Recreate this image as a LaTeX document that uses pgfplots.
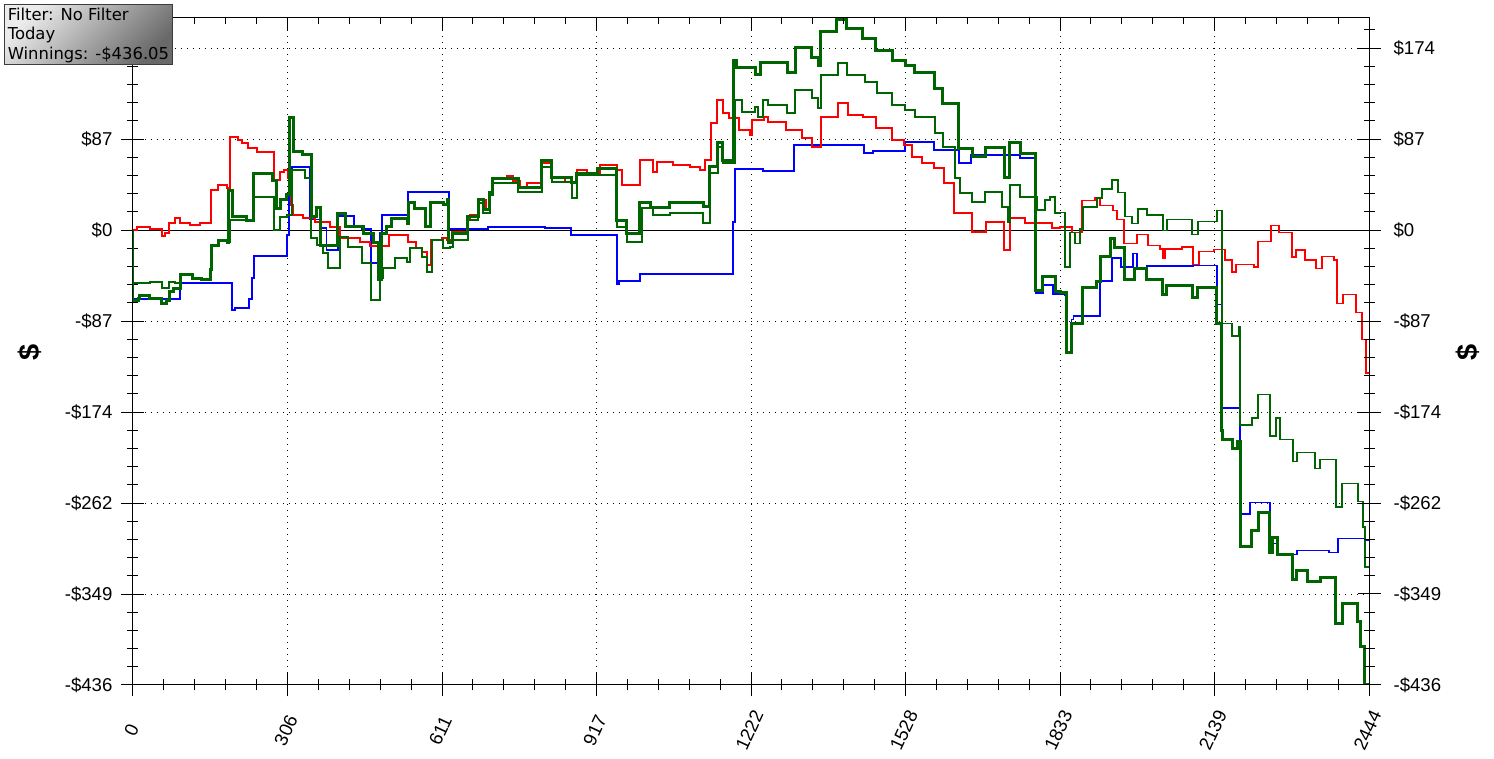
\documentclass[border=0pt]{standalone}
\usepackage{fontspec}
\setmainfont{Liberation Sans}
\newfontfamily\boxfont{DejaVu Sans}
\usepackage{pgfplots}
\pgfplotsset{compat=1.18}

\definecolor{dkgreen}{RGB}{0,100,0}
\definecolor{boxlight}{RGB}{236,236,236}
\definecolor{boxdark}{RGB}{105,105,105}
\definecolor{boxedge}{RGB}{60,60,60}

\pgfplotsset{
  common/.style={
    width=618pt, height=333.5pt, scale only axis,
    xmin=0, xmax=2444, ymin=-436.05, ymax=203.2,
    xtick={0,305.5,611,916.5,1222,1527.5,1833,2138.5,2444},
    ytick={-436.05,-348.84,-261.63,-174.42,-87.21,0,87.21,174.42},
    minor ytick={-418.61,-401.17,-383.72,-366.28,-331.40,-313.95,-296.51,-279.07,-244.19,-226.75,-209.30,-191.86,-156.98,-139.54,-122.09,-104.65,-69.77,-52.33,-34.88,-17.44,17.44,34.88,52.33,69.77,104.65,122.09,139.54,156.98,191.86},
    minor x tick num=4,
    axis line style={black, line width=0.5pt},
    tick style={black, line width=0.5pt},
    every tick label/.append style={font=\fontsize{9.3}{11}\selectfont},
  },
}

\begin{document}
\begin{tikzpicture}

% main axis: box, grid, data, bottom and left ticks
\begin{axis}[common,
  xtick pos=left, ytick pos=left,
  tick align=center,
  major tick length=11.5pt, minor tick length=5.5pt,
  xticklabels={0,306,611,917,1222,1528,1833,2139,2444},
  % the top label on the left sits under the info box
  yticklabels={-\$436,-\$349,-\$262,-\$174,-\$87,\$0,\$87,{}},
  xticklabel style={yshift=-17pt, xshift=-0.8pt, rotate=65, anchor=center},
  yticklabel style={xshift=-1pt},
  grid=major,
  major grid style={black, line width=0.5pt, dash pattern=on 0.5pt off 2.5pt},
]
\addplot[black, line width=0.5pt] coordinates {(0,0) (2444,0)};

% blue
\addplot[const plot, blue, line width=0.7pt] coordinates {
(0,0) (0,-66.1) (92.9,-50.8) (195.8,-76.7) (201.7,-74.8) (229.4,-66.1) (235.3,-46.0)
(239.3,-24.9) (304.5,-4.8) (308.5,45.0) (314.4,60.4) (350.0,10.0) (370.0,2.0)
(383.0,-19.2) (405.3,13.4) (437.0,3.8) (452.8,1.0) (470.6,-31.6) (488.4,-2.9)
(492.3,14.4) (543.8,36.4) (624.8,1.0) (702.0,2.9) (814.6,1.9) (866.1,-4.8)
(957.0,-51.8) (961.0,-48.9) (1002.5,-42.2) (1186.4,7.7) (1190.3,58.5) (1245.7,56.5)
(1307.0,81.5) (1445.4,73.8) (1463.2,75.7) (1526.5,84.3) (1583.8,76.7) (1633.3,64.2)
(1657.0,71.9) (1753.9,69.0) (1785.5,-60.4) (1799.3,-52.7) (1819.1,-61.3) (1842.8,-63.0)
(1848.0,-117.4) (1856.0,-86.0) (1860.0,-82.5) (1912.0,-48.8) (1935.8,-26.8) (1953.6,-35.5)
(1977.3,-22.6) (1985.2,-36.6) (2005.0,-34.5) (2096.0,-33.8) (2143.4,-71.1) (2153.3,-170.7)
(2188.9,-272.3) (2208.7,-260.9) (2248.2,-300.2) (2264.0,-310.7) (2301.6,-307.2)
(2364.9,-308.9) (2382.6,-295.7) (2436.0,-297.8) (2444,-297.8)
};

% red
\addplot[const plot, red, line width=0.7pt] coordinates {
(0,0) (7.9,2.9) (33.6,1.0) (57.3,-5.8) (63.3,-2.9) (71.2,6.7) (83.0,11.5) (92.9,6.7)
(112.7,4.8) (132.5,6.7) (154.2,38.3) (168.1,43.1) (185.9,40.3) (191.8,89.1) (207.6,86.3)
(215.5,83.4) (227.4,78.6) (245.2,74.8) (278.8,47.9) (290.7,55.6) (298.6,57.5) (306.5,49.8)
(312.4,24.0) (316.4,14.4) (336.1,11.5) (359.9,7.7) (389.5,2.9) (409.3,-7.7) (448.8,-11.5)
(468.6,-15.3) (506.2,-4.8) (543.8,-11.5) (559.6,-17.3) (571.4,-21.1) (581.3,-33.5)
(589.2,-9.6) (611.0,-7.7) (620.9,-9.6) (630.8,-1.9) (660.4,11.5) (666.4,14.4) (682.2,28.8)
(698.0,19.2) (705.9,36.4) (711.8,49.8) (739.5,51.8) (751.4,47.0) (765.2,41.2) (779.1,45.0)
(806.7,64.2) (828.5,49.8) (854.2,46.0) (877.9,57.5) (897.7,52.7) (923.4,62.3) (957.0,57.5)
(966.9,43.1) (1002.5,67.1) (1028.2,55.6) (1036.1,65.2) (1067.7,62.3) (1101.4,60.4)
(1121.1,57.5) (1131.0,67.1) (1142.9,102.5) (1154.7,124.6) (1166.6,112.1) (1178.5,107.3)
(1198.2,95.8) (1220.0,91.0) (1223.9,105.4) (1247.7,108.3) (1255.6,103.5) (1291.2,95.8)
(1322.8,88.2) (1342.6,79.5) (1360.4,108.3) (1394.0,121.7) (1413.8,110.2) (1443.4,108.3)
(1469.1,97.8) (1500.8,86.3) (1524.5,81.5) (1540.3,70.0) (1560.1,64.2) (1583.8,59.4)
(1603.6,45.0) (1623.4,16.3) (1659.0,-1.9) (1686.6,7.7) (1722.2,-19.2) (1734.1,11.5)
(1763.8,6.7) (1817.1,1.9) (1833.0,2.8) (1856.6,-2.4) (1876.5,28.2) (1902.2,30.7)
(1912.0,23.7) (1937.7,18.5) (1945.6,9.8) (1959.5,-12.9) (1985.2,-4.2) (2007.0,-14.6)
(2030.7,-18.1) (2036.6,-26.8) (2040.6,-18.1) (2074.2,-16.4) (2096.0,-33.1) (2107.9,-20.5)
(2137.5,-18.8) (2159.3,-28.6) (2173.1,-40.1) (2181.0,-33.1) (2216.6,-35.5) (2224.5,-11.1)
(2250.2,4.5) (2266.1,-2.4) (2291.8,-25.8) (2299.7,-19.2) (2317.5,-28.6) (2339.2,-36.6)
(2351.1,-25.1) (2374.8,-28.6) (2380.7,-70.4) (2392.6,-61.6) (2418.3,-79.1) (2430.1,-105.2)
(2438.0,-137.2) (2444,-137.2)
};

% thin green
\addplot[const plot, dkgreen, line width=0.7pt] coordinates {
(0,0) (0,-50.8) (33.6,-49.8) (57.3,-55.6) (71.2,-49.8) (83.0,-50.8) (94.9,-43.1)
(116.7,-46.0) (136.4,-47.9) (154.2,-38.3) (156.2,-14.4) (168.1,-9.6) (185.9,-11.5)
(191.8,9.6) (237.3,31.6) (278.8,0) (290.7,12.5) (304.5,14.4) (314.4,57.5) (340.1,49.8)
(352.0,-7.7) (363.8,-14.4) (375.7,-22.0) (385.6,-36.4) (409.3,-6.7) (425.1,-16.3)
(452.8,-31.6) (470.6,-67.1) (488.4,-46.0) (494.3,-36.4) (518.1,-26.8) (541.8,-30.7)
(547.7,-17.3) (571.4,-25.9) (581.3,-40.3) (591.2,-9.6) (613.0,-17.3) (626.8,-16.3)
(632.7,-9.6) (662.4,9.6) (682.2,25.9) (692.1,16.3) (705.9,33.5) (711.8,45.0) (761.3,36.4)
(808.7,60.4) (828.5,46.0) (868.0,30.7) (877.9,52.7) (957.0,2.9) (976.8,-11.5)
(1006.4,21.1) (1028.2,14.4) (1061.8,16.3) (1127.1,6.7) (1140.9,54.6) (1156.7,79.5)
(1166.6,64.2) (1190.3,124.6) (1204.2,113.1) (1229.9,117.9) (1235.8,108.3) (1245.7,124.6)
(1255.6,119.8) (1293.2,112.1) (1309.0,134.2) (1342.6,126.5) (1354.5,116.9) (1360.4,148.6)
(1394.0,160.1) (1411.8,148.6) (1447.4,141.8) (1471.1,131.3) (1500.8,119.8) (1526.5,115.0)
(1546.2,108.3) (1585.8,93.0) (1601.6,79.5) (1625.3,49.8) (1635.2,35.5) (1659.0,26.8)
(1684.7,36.4) (1718.3,22.0) (1730.1,7.7) (1734.1,43.1) (1753.9,31.6) (1787.5,19.2)
(1803.3,28.8) (1813.2,31.6) (1823.1,16.3) (1833.0,16.7) (1842.8,-35.5) (1852.7,-2.4)
(1862.6,-12.9) (1872.5,1.0) (1878.4,21.9) (1906.1,30.7) (1916.0,39.4) (1935.8,48.1)
(1947.6,35.9) (1961.5,13.2) (1975.3,6.3) (1987.2,20.2) (2005.0,14.3) (2036.6,-0.7)
(2044.5,9.8) (2094.0,-4.2) (2105.8,8.0) (2143.4,18.5) (2153.3,-89.5) (2173.1,-101.7)
(2186.9,-93.0) (2188.9,-187.0) (2212.6,-180.1) (2224.5,-157.4) (2248.2,-197.5)
(2260.1,-180.1) (2268.0,-201.0) (2293.7,-221.9) (2301.6,-213.2) (2337.2,-228.8)
(2347.1,-220.1) (2378.7,-265.4) (2390.6,-242.8) (2422.2,-260.2) (2432.1,-284.6)
(2436.0,-322.9) (2444,-322.9)
};

% thick green
\addplot[const plot, dkgreen, line width=1.5pt] coordinates {
(0,0) (0,-68.0) (9.9,-65.2) (13.8,-62.3) (33.6,-65.2) (57.3,-70.0) (65.3,-67.1)
(71.2,-59.4) (79.1,-55.6) (94.9,-43.1) (116.7,-46.0) (136.4,-47.9) (154.2,-38.3)
(156.2,-14.4) (168.1,-9.6) (185.9,-11.5) (189.8,38.3) (195.8,12.5) (225.4,9.6)
(237.3,54.6) (276.8,47.9) (282.8,21.1) (290.7,28.8) (304.5,34.5) (310.4,108.3)
(316.4,74.8) (336.1,71.9) (352.0,13.4) (363.8,22.0) (369.8,-14.4) (405.3,16.3)
(419.2,2.9) (454.8,-2.9) (474.6,-11.5) (486.4,-47.9) (492.3,-2.9) (502.2,2.9)
(512.1,11.5) (541.8,6.7) (543.8,25.9) (557.6,21.1) (577.4,2.9) (589.2,26.8) (613.0,24.0)
(620.9,28.8) (624.8,-11.5) (632.7,-2.9) (662.4,12.5) (682.2,28.8) (692.1,19.2)
(705.9,36.4) (711.8,49.8) (761.3,41.2) (808.7,67.1) (828.5,50.8) (868.0,46.0)
(877.9,54.6) (919.4,59.4) (957.0,9.6) (976.8,-2.9) (1002.5,25.9) (1022.3,22.0)
(1061.8,25.9) (1127.1,23.0) (1140.9,60.4) (1156.7,83.4) (1166.6,67.1) (1186.4,162.9)
(1194.3,155.3) (1229.9,148.6) (1239.8,160.1) (1293.2,151.4) (1309.0,175.4)
(1342.6,165.8) (1354.5,158.1) (1360.4,189.8) (1392.0,201.3) (1411.8,193.6)
(1443.4,184.0) (1467.2,172.5) (1500.8,162.9) (1526.5,158.1) (1546.2,151.4)
(1585.8,136.1) (1601.6,121.7) (1631.3,78.6) (1659.0,70.0) (1684.7,79.5) (1724.2,50.8)
(1734.1,84.3) (1753.9,73.8) (1785.5,-57.5) (1799.3,-45.0) (1823.1,-59.4) (1833.0,-59.9)
(1846.8,-117.4) (1856.6,-89.5) (1876.5,-54.7) (1906.1,-49.5) (1914.0,-25.1)
(1933.8,-7.7) (1941.7,-16.4) (1961.5,-47.7) (1981.2,-37.3) (2005.0,-47.7) (2036.6,-61.6)
(2044.5,-52.9) (2094.0,-65.1) (2105.8,-54.7) (2143.4,-89.5) (2153.3,-192.3)
(2155.0,-201.0) (2175.0,-209.7) (2184.9,-202.7) (2188.9,-303.7) (2212.6,-288.0)
(2224.5,-270.6) (2248.2,-309.0) (2254.1,-295.0) (2264.0,-310.7) (2291.8,-335.1)
(2301.6,-326.4) (2323.3,-336.8) (2347.1,-333.3) (2378.7,-376.9) (2390.6,-357.7)
(2422.2,-375.1) (2428.1,-399.5) (2436.0,-436.05) (2444,-436.05)
};
\end{axis}

% top ticks, pointing inwards
\begin{axis}[common,
  axis x line*=top, axis y line=none,
  xticklabels={}, tick align=inside,
  major tick length=6pt, minor tick length=3pt,
]
\end{axis}

% right ticks and labels
\begin{axis}[common,
  axis y line*=right, axis x line=none,
  tick align=center,
  major tick length=11.5pt, minor tick length=5.5pt,
  yticklabels={-\$436,-\$349,-\$262,-\$174,-\$87,\$0,\$87,\$174},
  yticklabel style={xshift=3pt},
]
\end{axis}

% axis titles
\node[rotate=90, font=\bfseries\fontsize{14.5}{16}\selectfont] at (-51.5pt,166.5pt) {\$};
\node[rotate=90, font=\bfseries\fontsize{14.5}{16}\selectfont] at (667.5pt,166.5pt) {\$};

% info box
\shadedraw[top color=boxlight, bottom color=boxdark, shading angle=45, draw=boxedge, line width=0.5pt]
  (-64pt,310pt) rectangle (19.5pt,340pt);
\node[anchor=north west, align=left, inner sep=0pt, font=\boxfont\fontsize{8.2}{9.6}\selectfont]
  at (-62.8pt,338.6pt) {Filter: No Filter\\Today\\Winnings: -\$436.05};

\pgfresetboundingbox
\path[use as bounding box] (-66.5pt,-37pt) rectangle (680.5pt,342.5pt);
\end{tikzpicture}
\end{document}
